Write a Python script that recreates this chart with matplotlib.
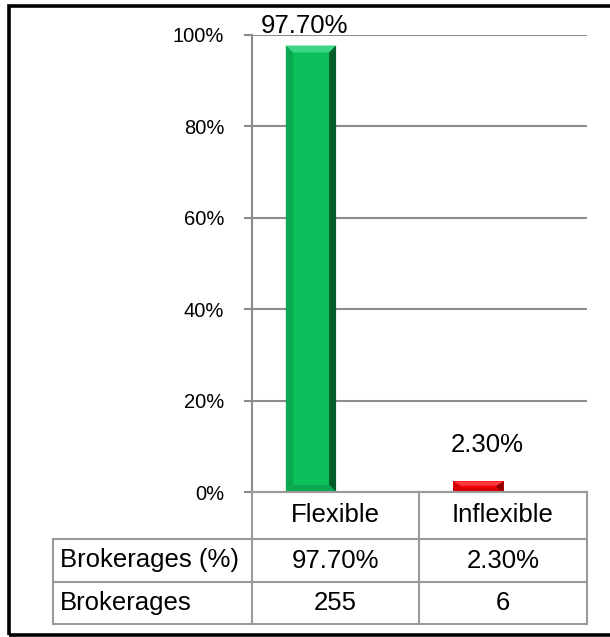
"""Brokerage flexibility split: bar chart with an attached data table."""

import matplotlib

matplotlib.use("Agg")
import matplotlib.pyplot as plt
from matplotlib.lines import Line2D
from matplotlib.patches import Polygon, Rectangle

plt.rcParams["font.family"] = ["Liberation Sans", "DejaVu Sans"]

categories = ["Flexible", "Inflexible"]
share_pct = [97.70, 2.30]
counts = [255, 6]
row_labels = ["Brokerages (%)", "Brokerages"]
y_ticks = [0, 20, 40, 60, 80, 100]

# face, light bevel, side bevel, dark bevel
bar_styles = [
    ("#0DBF5B", "#3CD786", "#0BA851", "#045C2B"),
    ("#F50000", "#FF3A3A", "#D40000", "#8A0000"),
]
label_offsets = [(-5, 9), (6, 21)]  # points, relative to bar top

W, H = 610, 637
GRID = "#8C8C8C"
TABLE = "#9A9A9A"


def fx(x):
    return x / W


def fy(y):
    return 1 - y / H


fig = plt.figure(figsize=(W / 100, H / 100), dpi=100)
ax = fig.add_axes([fx(252), fy(492), fx(587) - fx(252), fy(35) - fy(492)])

xs = list(range(len(categories)))
bars = ax.bar(xs, share_pct, width=0.3, color=[s[0] for s in bar_styles], zorder=3)

# bevel edges, sized in pixels and converted to data units
bx = 7 / 167.5
by = 7 * 100 / 457
for rect, (face, light, side, dark) in zip(bars, bar_styles):
    x0, y0 = rect.get_x(), rect.get_y()
    x1, y1 = x0 + rect.get_width(), y0 + rect.get_height()
    b_y = min(by, (y1 - y0) / 2.5)
    top = Polygon([(x0, y1), (x1, y1), (x1 - bx, y1 - b_y), (x0 + bx, y1 - b_y)],
                  closed=True, color=light, zorder=4, lw=0)
    left = Polygon([(x0, y0), (x0, y1), (x0 + bx, y1 - b_y), (x0 + bx, y0 + b_y)],
                   closed=True, color=side, zorder=4, lw=0)
    right = Polygon([(x1, y0), (x1, y1), (x1 - bx, y1 - b_y), (x1 - bx, y0 + b_y)],
                    closed=True, color=dark, zorder=4, lw=0)
    bottom = Polygon([(x0, y0), (x1, y0), (x1 - bx, y0 + b_y), (x0 + bx, y0 + b_y)],
                     closed=True, color=side, zorder=4, lw=0)
    for p in (top, left, right, bottom):
        ax.add_patch(p)

for x, v, (dx, dy) in zip(xs, share_pct, label_offsets):
    ax.annotate(f"{v:.2f}%", xy=(x, v), xytext=(dx, dy), textcoords="offset points",
                ha="center", va="baseline", fontsize=18.5, color="black", zorder=5)

ax.set_xlim(-0.352, 1.648)
ax.set_ylim(0, 100)
ax.set_yticks(y_ticks)
ax.set_yticklabels([f"{t}%" for t in y_ticks], fontsize=14.5)
ax.set_xticks([])
ax.yaxis.grid(True, color=GRID, lw=1.5, zorder=0)
ax.tick_params(axis="y", length=6, width=1.5, color=GRID, pad=14)
for side in ("top", "right", "bottom"):
    ax.spines[side].set_visible(False)
ax.spines["left"].set_color(GRID)
ax.spines["left"].set_linewidth(1.5)
ax.set_facecolor("none")

# data table below the plot
col_edges = [252, 419, 587]
row_edges = [492, 539, 582, 624]
table_left = 53


def hline(x0, x1, y):
    fig.add_artist(Line2D([fx(x0), fx(x1)], [fy(y), fy(y)], color=TABLE, lw=1.5,
                          transform=fig.transFigure))


def vline(x, y0, y1):
    fig.add_artist(Line2D([fx(x), fx(x)], [fy(y0), fy(y1)], color=TABLE, lw=1.5,
                          transform=fig.transFigure))


hline(col_edges[0], col_edges[-1], row_edges[0])
for y in row_edges[1:]:
    hline(table_left, col_edges[-1], y)
for x in col_edges:
    vline(x, row_edges[0], row_edges[-1])
vline(table_left, row_edges[1], row_edges[-1])

col_centers = [(a + b) / 2 for a, b in zip(col_edges[:-1], col_edges[1:])]
row_centers = [(a + b) / 2 for a, b in zip(row_edges[:-1], row_edges[1:])]

for cx, name in zip(col_centers, categories):
    fig.text(fx(cx), fy(row_centers[0]), name, ha="center", va="center", fontsize=18.5)

table_rows = [[f"{v:.2f}%" for v in share_pct], [str(c) for c in counts]]
for ry, label, values in zip(row_centers[1:], row_labels, table_rows):
    fig.text(fx(table_left + 7), fy(ry), label, ha="left", va="center", fontsize=18.5)
    for cx, val in zip(col_centers, values):
        fig.text(fx(cx), fy(ry), val, ha="center", va="center", fontsize=18.5)

# outer chart border, right edge runs off the canvas
fig.add_artist(Rectangle((fx(9), fy(634.5)), 1.05 - fx(9), fy(5.5) - fy(634.5),
                         fill=False, ec="black", lw=2.6, transform=fig.transFigure))

fig.savefig("out.png", dpi=100)
